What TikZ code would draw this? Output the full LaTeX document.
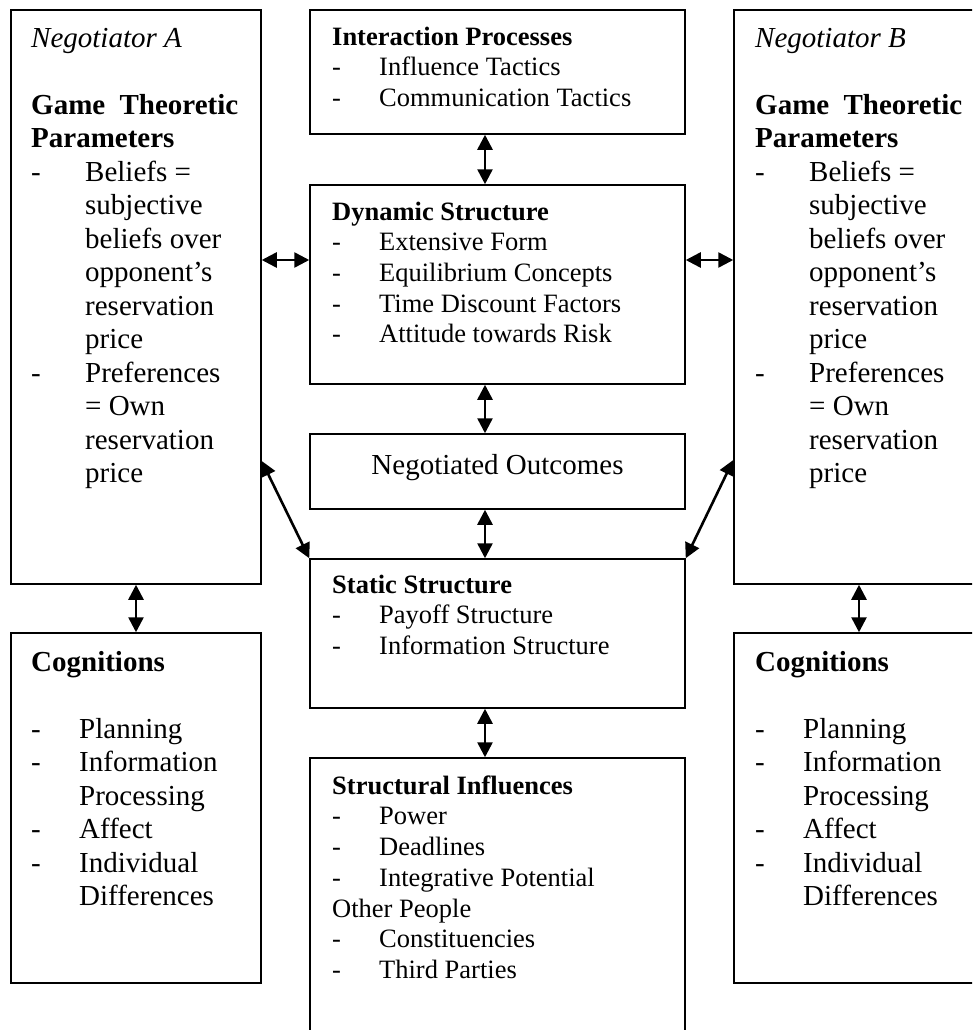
\documentclass[tikz,border=0pt]{standalone}
\usepackage{fontspec}
\setmainfont{Liberation Serif}
\usetikzlibrary{arrows.meta,calc}

\tikzset{
  box/.style={draw, line width=1.5pt, rectangle, inner sep=0pt},
  link/.style={line width=2.6pt,
    {Triangle[length=15pt,width=15pt]}-{Triangle[length=15pt,width=15pt]}},
  sidetext/.style={anchor=north west, inner sep=0pt, align=left,
    font=\fontsize{29}{33.5}\selectfont},
  midtext/.style={anchor=north west, inner sep=0pt, align=left,
    font=\fontsize{26.5}{30.7}\selectfont},
}

% list entries: a dash followed by the text at a fixed tab
\newcommand\gtitem[1]{\makebox[54pt][l]{-}#1}
\newcommand\gtcont[1]{\hspace*{54pt}#1}
\newcommand\cgitem[1]{\makebox[48pt][l]{-}#1}
\newcommand\cgcont[1]{\hspace*{48pt}#1}
\newcommand\mditem[1]{\makebox[47pt][l]{-}#1}

\begin{document}
\begin{tikzpicture}[x=1pt, y=-1pt]
\useasboundingbox (0,0) rectangle (972,1030);
\clip (0,0) rectangle (972,1030);

% ---- boxes ----
\node[box, minimum width=250pt, minimum height=574pt] (gA) at (136,297) {};
\node[box, minimum width=250pt, minimum height=574pt] (gB) at (859,297) {};
\node[box, minimum width=250pt, minimum height=350pt] (cA) at (136,808) {};
\node[box, minimum width=250pt, minimum height=350pt] (cB) at (859,808) {};
\node[box, minimum width=375pt, minimum height=124pt] (inter) at (497.5,72) {};
\node[box, minimum width=375pt, minimum height=199pt] (dyn) at (497.5,284.5) {};
\node[box, minimum width=375pt, minimum height=75pt] (neg) at (497.5,471.5) {};
\node[box, minimum width=375pt, minimum height=149pt] (stat) at (497.5,633.5) {};
\node[box, minimum width=375pt, minimum height=287pt] (struc) at (497.5,901.5) {};

% ---- texts of the two negotiators ----
\node[sidetext] (tA) at (31,23.55) {\strut\textit{Negotiator A}\\
  \mbox{}\\
  \textbf{\makebox[207pt][s]{Game Theoretic}}\\
  \textbf{Parameters}\\
  \gtitem{Beliefs =}\\
  \gtcont{subjective}\\
  \gtcont{beliefs over}\\
  \gtcont{opponent’s}\\
  \gtcont{reservation}\\
  \gtcont{price}\\
  \gtitem{Preferences}\\
  \gtcont{= Own}\\
  \gtcont{reservation}\\
  \gtcont{price}};

\node[sidetext] (tB) at (755,23.55) {\strut\textit{Negotiator B}\\
  \mbox{}\\
  \textbf{\makebox[207pt][s]{Game Theoretic}}\\
  \textbf{Parameters}\\
  \gtitem{Beliefs =}\\
  \gtcont{subjective}\\
  \gtcont{beliefs over}\\
  \gtcont{opponent’s}\\
  \gtcont{reservation}\\
  \gtcont{price}\\
  \gtitem{Preferences}\\
  \gtcont{= Own}\\
  \gtcont{reservation}\\
  \gtcont{price}};

\node[sidetext] (tcA) at (31,647.55) {\strut\textbf{Cognitions}\\
  \mbox{}\\
  \cgitem{Planning}\\
  \cgitem{Information}\\
  \cgcont{Processing}\\
  \cgitem{Affect}\\
  \cgitem{Individual}\\
  \cgcont{Differences}};

\node[sidetext] (tcB) at (755,647.55) {\strut\textbf{Cognitions}\\
  \mbox{}\\
  \cgitem{Planning}\\
  \cgitem{Information}\\
  \cgcont{Processing}\\
  \cgitem{Affect}\\
  \cgitem{Individual}\\
  \cgcont{Differences}};

% ---- texts of the middle column ----
\node[midtext] (tinter) at (332,23.5) {\strut\textbf{Interaction Processes}\\
  \mditem{Influence Tactics}\\
  \mditem{Communication Tactics}};

\node[midtext] (tdyn) at (332,198.5) {\strut\textbf{Dynamic Structure}\\
  \mditem{Extensive Form}\\
  \mditem{Equilibrium Concepts}\\
  \mditem{Time Discount Factors}\\
  \mditem{Attitude towards Risk}};

\node[anchor=base, inner sep=0pt, font=\fontsize{29}{33.5}\selectfont]
  (tneg) at (497.5,474) {Negotiated Outcomes};

\node[midtext] (tstat) at (332,571.5) {\strut\textbf{Static Structure}\\
  \mditem{Payoff Structure}\\
  \mditem{Information Structure}};

\node[midtext] (tstruc) at (332,772.5) {\strut\textbf{Structural Influences}\\
  \mditem{Power}\\
  \mditem{Deadlines}\\
  \mditem{Integrative Potential}\\
  Other People\\
  \mditem{Constituencies}\\
  \mditem{Third Parties}};

% ---- connectors ----
\coordinate (hl) at (0,260);
\coordinate (dA) at (0,461);
\coordinate (dB) at (0,460);

\draw[link] ([xshift=-12.5pt]inter.south) -- ([xshift=-12.5pt]dyn.north);
\draw[link] ([xshift=-12.5pt]dyn.south) -- ([xshift=-12.5pt]neg.north);
\draw[link] ([xshift=-12.5pt]neg.south) -- ([xshift=-12.5pt]stat.north);
\draw[link] ([xshift=-12.5pt]stat.south) -- ([xshift=-12.5pt]struc.north);
\draw[link] (gA.east |- hl) -- (dyn.west |- hl);
\draw[link] (dyn.east |- hl) -- (gB.west |- hl);
\draw[link] (gA.east |- dA) -- (stat.north west);
\draw[link] (gB.west |- dB) -- (stat.north east);
\draw[link] (gA.south) -- (cA.north);
\draw[link] (gB.south) -- (cB.north);
\end{tikzpicture}
\end{document}
